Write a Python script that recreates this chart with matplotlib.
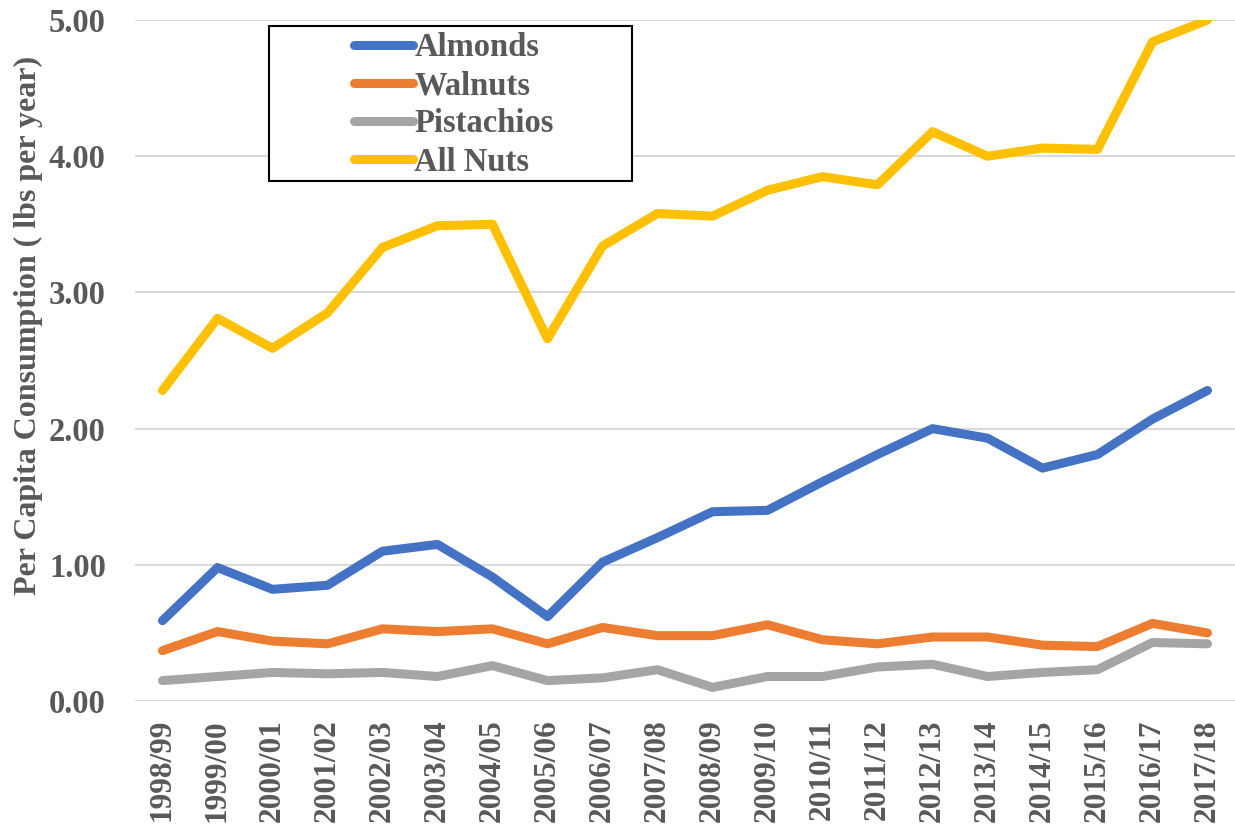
import numpy as np
import matplotlib.pyplot as plt
from matplotlib.patches import Rectangle

years = ['1998/99', '1999/00', '2000/01', '2001/02', '2002/03', '2003/04', '2004/05',
         '2005/06', '2006/07', '2007/08', '2008/09', '2009/10', '2010/11', '2011/12',
         '2012/13', '2013/14', '2014/15', '2015/16', '2016/17', '2017/18']

almonds = [0.59, 0.98, 0.82, 0.85, 1.10, 1.15, 0.91, 0.62, 1.02, 1.20,
           1.39, 1.40, 1.61, 1.81, 2.00, 1.93, 1.71, 1.81, 2.07, 2.28]
walnuts = [0.37, 0.51, 0.44, 0.42, 0.53, 0.51, 0.53, 0.42, 0.54, 0.48,
           0.48, 0.56, 0.45, 0.42, 0.47, 0.47, 0.41, 0.40, 0.57, 0.50]
pistachios = [0.15, 0.18, 0.21, 0.20, 0.21, 0.18, 0.26, 0.15, 0.17, 0.23,
              0.10, 0.18, 0.18, 0.25, 0.27, 0.18, 0.21, 0.23, 0.43, 0.42]
all_nuts = [2.28, 2.81, 2.59, 2.85, 3.33, 3.49, 3.50, 2.66, 3.34, 3.58,
            3.56, 3.75, 3.85, 3.79, 4.18, 4.00, 4.06, 4.05, 4.84, 5.00]

series = [('Almonds', almonds, '#4472C4'),
          ('Walnuts', walnuts, '#ED7D31'),
          ('Pistachios', pistachios, '#A5A5A5'),
          ('All Nuts', all_nuts, '#FFC000')]

plt.rcParams['font.family'] = ['Liberation Serif', 'DejaVu Serif']
plt.rcParams['font.weight'] = 'bold'
gray = '#595959'

fig = plt.figure(figsize=(12.35, 8.31), dpi=100)
ax = fig.add_axes([0.1093, 0.1564, 0.8907, 0.8195])

x = np.arange(len(years))
for name, vals, col in series:
    ax.plot(x, vals, color=col, lw=6.5, label=name,
            solid_capstyle='round', solid_joinstyle='round')

ax.set_xlim(-0.5, len(years) - 0.5)
ax.set_ylim(0, 5)
ax.set_yticks(np.arange(0, 6, 1))
ax.set_yticklabels([f'{v:.2f}' for v in range(6)])
ax.set_xticks(x)
ax.set_xticklabels(years, rotation=90)
ax.tick_params(axis='both', length=0, labelcolor=gray)
ax.tick_params(axis='y', labelsize=23.5, pad=21)
ax.tick_params(axis='x', labelsize=22.5, pad=13)
for lbl in ax.get_xticklabels() + ax.get_yticklabels():
    lbl.set_fontweight('bold')

ax.grid(axis='y', color='#D9D9D9', lw=1.5)
ax.set_axisbelow(True)
for s in ax.spines.values():
    s.set_visible(False)

ax.set_ylabel('Per Capita Consumption ( lbs per year)', fontsize=23,
              fontweight='bold', color=gray)
ax.yaxis.set_label_coords(-0.084, 0.552)

# legend box drawn separately so the entries can sit inside a wider frame
box = Rectangle((269 / 1235, (831 - 181) / 831), (632 - 269) / 1235, 155 / 831,
                transform=fig.transFigure, fill=True, facecolor='white',
                edgecolor='black', lw=1.5, zorder=5)
fig.add_artist(box)
leg = fig.legend(*ax.get_legend_handles_labels(), loc='upper left',
                 bbox_to_anchor=(354 / 1235, (831 - 32) / 831), fontsize=23.5,
                 frameon=False, handlelength=1.8, handletextpad=0.05,
                 labelspacing=0.22, borderpad=0, borderaxespad=0)
leg.set_zorder(6)
for t in leg.get_texts():
    t.set_color(gray)
    t.set_fontweight('bold')
for h in leg.get_lines():
    h.set_solid_capstyle('round')

fig.savefig('out.png', dpi=100)
